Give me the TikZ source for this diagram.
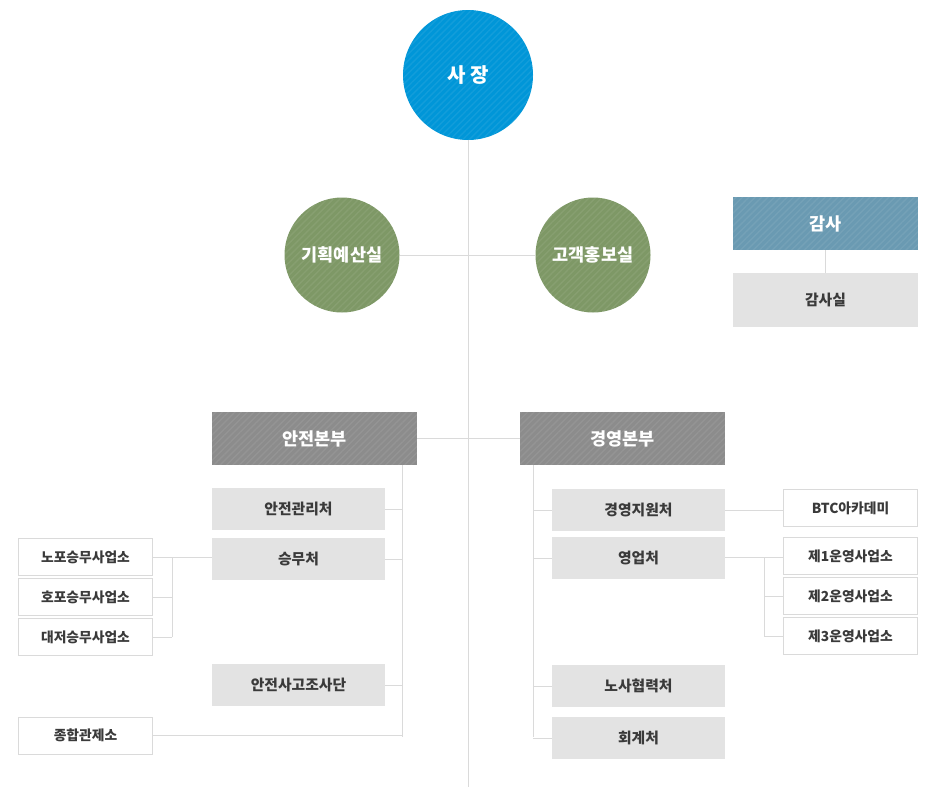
\documentclass[tikz,border=0pt]{standalone}
\usepackage{fontspec}
\setmainfont{Noto Sans CJK KR}
\usetikzlibrary{patterns.meta}
\definecolor{ceoblue}{HTML}{0096D8}
\definecolor{olivegreen}{HTML}{7E9866}
\definecolor{auditblue}{HTML}{6A9AB2}
\definecolor{hqgray}{HTML}{8C8C8C}
\definecolor{boxgray}{HTML}{E3E3E3}
\definecolor{linegray}{HTML}{DADADA}
\definecolor{txtdark}{HTML}{3A3A3A}
\tikzset{
  stripes/.style={postaction={pattern={Lines[angle=45,distance=4.5pt,line width=1.4pt]},pattern color=white!100!black,opacity=0.07}},
  conn/.style={draw=linegray,line width=1pt},
  bigcirc/.style={circle,fill=ceoblue,minimum size=130pt,inner sep=0pt,text=white,font=\bfseries\fontsize{20}{22}\selectfont,stripes},
  greencirc/.style={circle,fill=olivegreen,minimum size=115pt,inner sep=0pt,text=white,font=\bfseries\fontsize{17.5}{20}\selectfont,stripes},
  hqbox/.style={rectangle,fill=hqgray,minimum width=205pt,minimum height=53pt,inner sep=0pt,text=white,font=\bfseries\fontsize{17.5}{20}\selectfont,stripes},
  auditbox/.style={rectangle,fill=auditblue,minimum width=185pt,minimum height=53pt,inner sep=0pt,text=white,font=\bfseries\fontsize{17.5}{20}\selectfont,stripes},
  graybox/.style={rectangle,fill=boxgray,minimum width=173pt,minimum height=42pt,inner sep=0pt,text=txtdark,font=\bfseries\fontsize{14.8}{17}\selectfont},
  whitebox/.style={rectangle,fill=white,draw=linegray,line width=1pt,minimum width=134pt,minimum height=37pt,inner sep=0pt,text=txtdark,font=\bfseries\fontsize{13.8}{16}\selectfont},
}
\begin{document}
\begin{tikzpicture}[x=1pt,y=-1pt]
\useasboundingbox (0,0) rectangle (925,787);
% main trunk
\coordinate (trunkend) at (468,787);
\node[bigcirc] (ceo) at (468,75) {사 장};
\draw[conn] (ceo.south) -- (trunkend);
\node[greencirc] (plan) at (342,255) {기획예산실};
\node[greencirc] (pr) at (593,255) {고객홍보실};
\draw[conn] (plan.east) -- (pr.west);
\node[auditbox] (audit) at (825.5,223.5) {감사};
\node[graybox,minimum width=185pt,minimum height=54pt] (auditoff) at (825.5,300) {감사실};
\draw[conn] (audit.south) -- (auditoff.north);
% headquarters
\node[hqbox] (safehq) at (314.5,438.5) {안전본부};
\node[hqbox] (mgmthq) at (622.5,438.5) {경영본부};
\draw[conn] (safehq.east) -- (mgmthq.west);
% safety branch
\coordinate (lt) at (402,465);
\coordinate (lb) at (402,737);
\draw[conn] (lt) -- (lb);
\node[graybox] (safemgmt) at (298.5,509) {안전관리처};
\node[graybox] (crew) at (298.5,559) {승무처};
\node[graybox] (accident) at (298.5,685) {안전사고조사단};
\node[whitebox] (control) at (85.5,735.5) {종합관제소};
\draw[conn] (safemgmt.east) -- (safemgmt.east -| lt);
\draw[conn] (crew.east) -- (crew.east -| lt);
\draw[conn] (accident.east) -- (accident.east -| lt);
\draw[conn] (control.east) -- (control.east -| lt);
\node[whitebox] (nopo) at (85.5,557) {노포승무사업소};
\node[whitebox] (hopo) at (85.5,597) {호포승무사업소};
\node[whitebox] (daejeo) at (85.5,637) {대저승무사업소};
\coordinate (lj) at (172,557);
\draw[conn] (nopo.east) -- (crew.west |- nopo.east);
\draw[conn] (lj) -- (lj |- daejeo.east);
\draw[conn] (hopo.east) -- (hopo.east -| lj);
\draw[conn] (daejeo.east) -- (daejeo.east -| lj);
% management branch
\coordinate (rt) at (533,465);
\coordinate (rb) at (533,737);
\draw[conn] (rt) -- (rb);
\node[graybox] (support) at (638.5,510) {경영지원처};
\node[graybox] (sales) at (638.5,558) {영업처};
\node[graybox] (labor) at (638.5,686) {노사협력처};
\node[graybox] (account) at (638.5,738) {회계처};
\draw[conn] (support.west) -- (support.west -| rt);
\draw[conn] (sales.west) -- (sales.west -| rt);
\draw[conn] (labor.west) -- (labor.west -| rt);
\draw[conn] (account.west) -- (account.west -| rt);
\node[whitebox] (btc) at (850.5,508) {BTC아카데미};
\node[whitebox] (op1) at (850.5,556) {제1운영사업소};
\node[whitebox] (op2) at (850.5,596) {제2운영사업소};
\node[whitebox] (op3) at (850.5,636) {제3운영사업소};
\draw[conn] (support.east) -- (btc.west |- support.east);
\coordinate (rj) at (764,557);
\draw[conn] (sales.east |- rj) -- (op1.west |- rj);
\draw[conn] (rj) -- (rj |- op3.west);
\draw[conn] (op2.west) -- (op2.west -| rj);
\draw[conn] (op3.west) -- (op3.west -| rj);
\end{tikzpicture}
\end{document}
